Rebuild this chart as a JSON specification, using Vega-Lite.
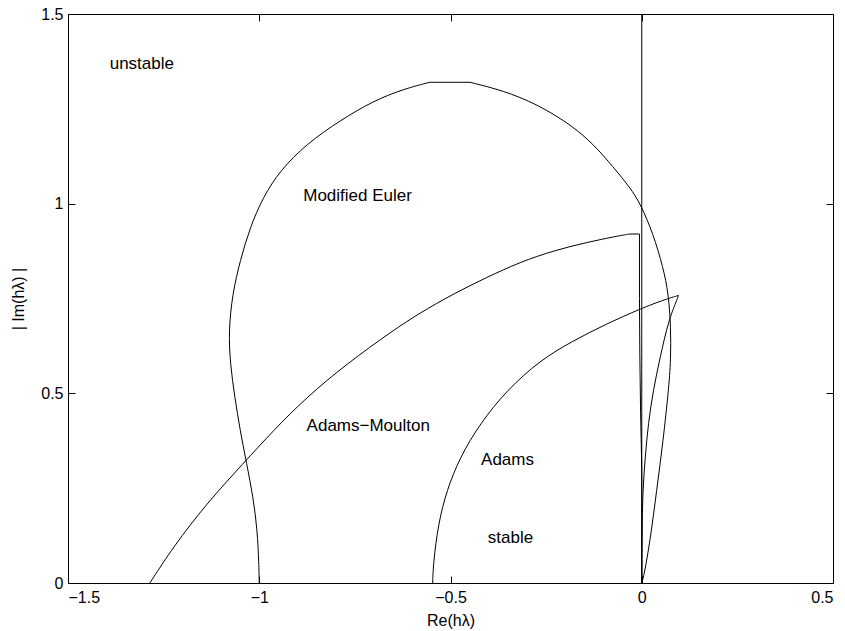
{
  "$schema": "https://vega.github.io/schema/vega-lite/v6.json",
  "width": 765,
  "height": 569,
  "autosize": "none",
  "padding": {"left": 68, "top": 14, "right": 12, "bottom": 48},
  "background": "white",
  "config": {
    "view": {"stroke": "black", "strokeWidth": 1},
    "font": "Liberation Sans",
    "axis": {"grid": false, "domainColor": "black", "tickColor": "black", "labelColor": "black", "titleColor": "black", "labelFont": "Liberation Sans", "titleFont": "Liberation Sans", "labelFontSize": 16, "titleFontSize": 16, "titleFontWeight": "normal", "tickWidth": 1, "domainWidth": 1}
  },
  "datasets": {
    "curves": [
      {"s": "axis", "i": 0, "x": 0, "y": 0},
      {"s": "axis", "i": 1, "x": 0, "y": 1.5},
      {"s": "me1", "i": 0, "x": -1.0, "y": 0},
      {"s": "me1", "i": 1, "x": -1.001, "y": 0.051},
      {"s": "me1", "i": 2, "x": -1.005, "y": 0.139},
      {"s": "me1", "i": 3, "x": -1.016, "y": 0.227},
      {"s": "me1", "i": 4, "x": -1.033, "y": 0.315},
      {"s": "me1", "i": 5, "x": -1.05, "y": 0.402},
      {"s": "me1", "i": 6, "x": -1.064, "y": 0.49},
      {"s": "me1", "i": 7, "x": -1.076, "y": 0.578},
      {"s": "me1", "i": 8, "x": -1.08, "y": 0.666},
      {"s": "me1", "i": 9, "x": -1.07, "y": 0.762},
      {"s": "me1", "i": 10, "x": -1.05, "y": 0.85},
      {"s": "me1", "i": 11, "x": -1.024, "y": 0.938},
      {"s": "me1", "i": 12, "x": -0.99, "y": 1.017},
      {"s": "me1", "i": 13, "x": -0.946, "y": 1.087},
      {"s": "me1", "i": 14, "x": -0.876, "y": 1.158},
      {"s": "me1", "i": 15, "x": -0.789, "y": 1.219},
      {"s": "me1", "i": 16, "x": -0.702, "y": 1.271},
      {"s": "me1", "i": 17, "x": -0.62, "y": 1.303},
      {"s": "me1", "i": 18, "x": -0.554, "y": 1.32},
      {"s": "me2", "i": 0, "x": -0.554, "y": 1.32},
      {"s": "me2", "i": 1, "x": -0.449, "y": 1.32},
      {"s": "me3", "i": 0, "x": -0.449, "y": 1.32},
      {"s": "me3", "i": 1, "x": -0.362, "y": 1.298},
      {"s": "me3", "i": 2, "x": -0.275, "y": 1.263},
      {"s": "me3", "i": 3, "x": -0.188, "y": 1.21},
      {"s": "me3", "i": 4, "x": -0.127, "y": 1.158},
      {"s": "me3", "i": 5, "x": -0.074, "y": 1.096},
      {"s": "me3", "i": 6, "x": -0.031, "y": 1.043},
      {"s": "me3", "i": 7, "x": -0.003, "y": 0.999},
      {"s": "me3", "i": 8, "x": 0.03, "y": 0.92},
      {"s": "me3", "i": 9, "x": 0.056, "y": 0.832},
      {"s": "me3", "i": 10, "x": 0.07, "y": 0.762},
      {"s": "me3", "i": 11, "x": 0.076, "y": 0.674},
      {"s": "me3", "i": 12, "x": 0.076, "y": 0.587},
      {"s": "me3", "i": 13, "x": 0.07, "y": 0.508},
      {"s": "me3", "i": 14, "x": 0.056, "y": 0.376},
      {"s": "me3", "i": 15, "x": 0.039, "y": 0.244},
      {"s": "me3", "i": 16, "x": 0.022, "y": 0.112},
      {"s": "me3", "i": 17, "x": 0.006, "y": 0.02},
      {"s": "me3", "i": 18, "x": 0, "y": 0},
      {"s": "am1", "i": 0, "x": -1.286, "y": 0},
      {"s": "am1", "i": 1, "x": -1.225, "y": 0.095},
      {"s": "am1", "i": 2, "x": -1.138, "y": 0.209},
      {"s": "am1", "i": 3, "x": -1.042, "y": 0.315},
      {"s": "am1", "i": 4, "x": -0.963, "y": 0.402},
      {"s": "am1", "i": 5, "x": -0.876, "y": 0.49},
      {"s": "am1", "i": 6, "x": -0.771, "y": 0.578},
      {"s": "am1", "i": 7, "x": -0.65, "y": 0.666},
      {"s": "am1", "i": 8, "x": -0.58, "y": 0.712},
      {"s": "am1", "i": 9, "x": -0.493, "y": 0.762},
      {"s": "am1", "i": 10, "x": -0.405, "y": 0.806},
      {"s": "am1", "i": 11, "x": -0.318, "y": 0.846},
      {"s": "am1", "i": 12, "x": -0.231, "y": 0.876},
      {"s": "am1", "i": 13, "x": -0.144, "y": 0.898},
      {"s": "am1", "i": 14, "x": -0.057, "y": 0.916},
      {"s": "am1", "i": 15, "x": -0.031, "y": 0.92},
      {"s": "am2", "i": 0, "x": -0.031, "y": 0.92},
      {"s": "am2", "i": 1, "x": -0.006, "y": 0.92},
      {"s": "am2", "i": 2, "x": -0.006, "y": 0.75},
      {"s": "am2", "i": 3, "x": -0.005, "y": 0.6},
      {"s": "am2", "i": 4, "x": -0.003, "y": 0.45},
      {"s": "am2", "i": 5, "x": 0, "y": 0.3},
      {"s": "am2", "i": 6, "x": 0, "y": 0},
      {"s": "ad1", "i": 0, "x": -0.5466, "y": 0},
      {"s": "ad1", "i": 1, "x": -0.545, "y": 0.051},
      {"s": "ad1", "i": 2, "x": -0.532, "y": 0.156},
      {"s": "ad1", "i": 3, "x": -0.51, "y": 0.244},
      {"s": "ad1", "i": 4, "x": -0.475, "y": 0.332},
      {"s": "ad1", "i": 5, "x": -0.423, "y": 0.42},
      {"s": "ad1", "i": 6, "x": -0.353, "y": 0.508},
      {"s": "ad1", "i": 7, "x": -0.266, "y": 0.587},
      {"s": "ad1", "i": 8, "x": -0.179, "y": 0.639},
      {"s": "ad1", "i": 9, "x": -0.092, "y": 0.683},
      {"s": "ad1", "i": 10, "x": -0.004, "y": 0.723},
      {"s": "ad1", "i": 11, "x": 0.065, "y": 0.749},
      {"s": "ad1", "i": 12, "x": 0.096, "y": 0.758},
      {"s": "ad2", "i": 0, "x": 0.096, "y": 0.758},
      {"s": "ad2", "i": 1, "x": 0.0915, "y": 0.745},
      {"s": "ad2", "i": 2, "x": 0.07, "y": 0.692},
      {"s": "ad2", "i": 3, "x": 0.048, "y": 0.595},
      {"s": "ad2", "i": 4, "x": 0.03, "y": 0.508},
      {"s": "ad2", "i": 5, "x": 0.017, "y": 0.42},
      {"s": "ad2", "i": 6, "x": 0.009, "y": 0.332},
      {"s": "ad2", "i": 7, "x": 0.003, "y": 0.244},
      {"s": "ad2", "i": 8, "x": 0.001, "y": 0.156},
      {"s": "ad2", "i": 9, "x": 0, "y": 0}
    ],
    "labels": [
      {"t": "unstable", "x": -1.307, "y": 1.369},
      {"t": "Modified Euler", "x": -0.743, "y": 1.021},
      {"t": "Adams\u2212Moulton", "x": -0.715, "y": 0.413},
      {"t": "Adams", "x": -0.351, "y": 0.323},
      {"t": "stable", "x": -0.343, "y": 0.118}
    ]
  },
  "layer": [
    {
      "data": {"name": "curves"},
      "transform": [{"filter": {"field": "s", "oneOf": ["axis", "me2", "am2"]}}],
      "mark": {"type": "line", "color": "black", "strokeWidth": 1, "clip": true},
      "encoding": {
        "x": {"field": "x", "type": "quantitative", "scale": {"domain": [-1.5, 0.5], "nice": false, "zero": false},
              "axis": {"orient": "bottom", "values": [-1.5, -1, -0.5, 0, 0.5], "format": "~g", "tickSize": -7, "labelPadding": 13, "title": "Re(h\u03bb)", "titlePadding": 7, "domain": false}},
        "y": {"field": "y", "type": "quantitative", "scale": {"domain": [0, 1.5], "nice": false, "zero": false},
              "axis": {"orient": "left", "values": [0, 0.5, 1, 1.5], "format": "~g", "tickSize": -7, "labelPadding": 12, "title": "| Im(h\u03bb) |", "titlePadding": 14, "domain": false}},
        "detail": {"field": "s"},
        "order": {"field": "i", "type": "quantitative"}
      }
    },
    {
      "data": {"name": "curves"},
      "transform": [{"filter": {"field": "s", "oneOf": ["me1", "me3", "am1", "ad1", "ad2"]}}],
      "mark": {"type": "line", "color": "black", "strokeWidth": 1, "clip": true, "interpolate": "basis"},
      "encoding": {
        "x": {"field": "x", "type": "quantitative", "axis": null},
        "y": {"field": "y", "type": "quantitative", "axis": null},
        "detail": {"field": "s"},
        "order": {"field": "i", "type": "quantitative"}
      }
    },
    {
      "data": {"name": "labels"},
      "mark": {"type": "text", "color": "black", "fontSize": 17, "font": "Liberation Sans", "align": "center", "baseline": "middle"},
      "encoding": {
        "x": {"field": "x", "type": "quantitative", "axis": {"orient": "top", "values": [-1.5, -1, -0.5, 0, 0.5], "labels": false, "tickSize": -7, "title": null, "domain": false}},
        "y": {"field": "y", "type": "quantitative", "axis": {"orient": "right", "values": [0, 0.5, 1, 1.5], "labels": false, "tickSize": -7, "title": null, "domain": false}},
        "text": {"field": "t"}
      }
    }
  ],
  "resolve": {"axis": {"x": "independent", "y": "independent"}}
}
